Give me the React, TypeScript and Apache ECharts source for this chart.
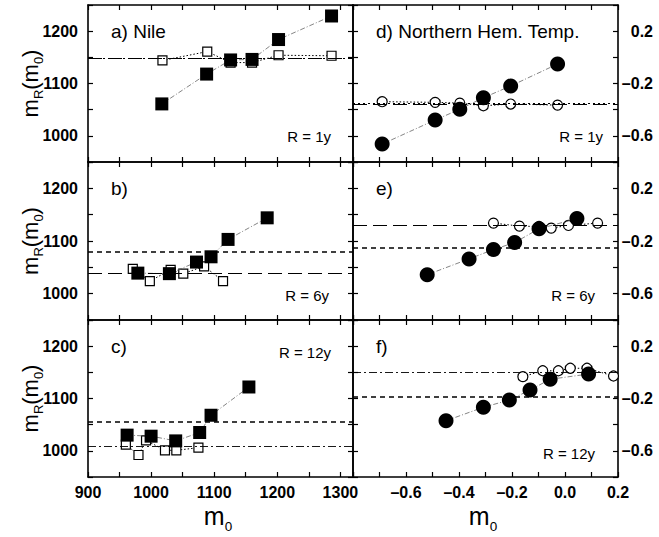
import React, { useEffect, useRef } from "react";
import * as echarts from "echarts";

// ---------- data ----------
// Nile, R = 1y
const aFilledX = [1017, 1088, 1126, 1160, 1202, 1286];
const aFilledY = [1061, 1118, 1145, 1146, 1184, 1229];
const aOpenX = [1018, 1089, 1126, 1160, 1202, 1286];
const aOpenY = [1144, 1161, 1140, 1140, 1154, 1153];
const aLevels = [1148, 1149];
// Nile, R = 6y
const bFilledX = [979, 1029, 1072, 1095, 1122, 1184];
const bFilledY = [1039, 1038, 1060, 1070, 1103, 1144];
const bOpenX = [971, 998, 1031, 1051, 1084, 1114];
const bOpenY = [1047, 1024, 1045, 1038, 1052, 1024];
const bLevels = [1038, 1079];
// Nile, R = 12y
const cFilledX = [962, 1000, 1039, 1077, 1095, 1155];
const cFilledY = [1030, 1028, 1019, 1035, 1068, 1122];
const cOpenX = [960, 980, 992, 1022, 1040, 1075];
const cOpenY = [1012, 992, 1020, 1001, 1001, 1006];
const cLevels = [1008, 1056];
// Northern Hem. Temp., R = 1y
const dFilledX = [-0.69, -0.49, -0.397, -0.308, -0.205, -0.028];
const dFilledY = [-0.663, -0.479, -0.397, -0.309, -0.219, -0.051];
const dOpenX = [-0.69, -0.49, -0.397, -0.308, -0.205, -0.028];
const dOpenY = [-0.339, -0.344, -0.35, -0.37, -0.357, -0.365];
const dLevels = [-0.36, -0.355];
// Northern Hem. Temp., R = 6y
const eFilledX = [-0.52, -0.362, -0.27, -0.19, -0.098, 0.045];
const eFilledY = [-0.456, -0.336, -0.265, -0.212, -0.107, -0.03];
const eOpenX = [-0.27, -0.172, -0.098, -0.052, 0.013, 0.123];
const eOpenY = [-0.064, -0.087, -0.09, -0.102, -0.082, -0.064];
const eLevels = [-0.082, -0.252];
// Northern Hem. Temp., R = 12y
const fFilledX = [-0.449, -0.308, -0.21, -0.132, -0.056, 0.089];
const fFilledY = [-0.37, -0.267, -0.212, -0.135, -0.053, -0.013];
const fOpenX = [-0.159, -0.084, -0.025, 0.02, 0.083, 0.183];
const fOpenY = [-0.033, 0.012, 0.012, 0.031, 0.031, -0.028];
const fLevels = [0.0, -0.194];

const panelLabels = ["a) Nile", "d) Northern Hem. Temp.", "b)", "e)", "c)", "f)"];
const rLabels = ["R = 1y", "R = 1y", "R = 6y", "R = 6y", "R = 12y", "R = 12y"];

const FONT = "'Liberation Sans', Arial, Helvetica, sans-serif";

type LevelKind = "long" | "short" | "dot" | "dashdot";

const levelStyle: Record<LevelKind, any> = {
  long: { type: [14, 6], width: 1.2, color: "#000" },
  short: { type: [5, 4], width: 1.7, color: "#000" },
  dot: { type: [2, 3], width: 1, color: "#000" },
  dashdot: { type: [8, 3, 2, 3], width: 0.9, color: "#000" },
};

interface Panel {
  fx: number[]; fy: number[]; ox: number[]; oy: number[];
  levels: number[]; kinds: LevelKind[];
  marker: "rect" | "circle";
}

const panels: Panel[] = [
  { fx: aFilledX, fy: aFilledY, ox: aOpenX, oy: aOpenY, levels: aLevels, kinds: ["long", "dot"], marker: "rect" },
  { fx: dFilledX, fy: dFilledY, ox: dOpenX, oy: dOpenY, levels: dLevels, kinds: ["long", "dot"], marker: "circle" },
  { fx: bFilledX, fy: bFilledY, ox: bOpenX, oy: bOpenY, levels: bLevels, kinds: ["long", "short"], marker: "rect" },
  { fx: eFilledX, fy: eFilledY, ox: eOpenX, oy: eOpenY, levels: eLevels, kinds: ["long", "short"], marker: "circle" },
  { fx: cFilledX, fy: cFilledY, ox: cOpenX, oy: cOpenY, levels: cLevels, kinds: ["dashdot", "short"], marker: "rect" },
  { fx: fFilledX, fy: fFilledY, ox: fOpenX, oy: fOpenY, levels: fLevels, kinds: ["dashdot", "short"], marker: "circle" },
];

// layout
const COL_LEFT = [88, 353];
const COL_W = 265;
const ROW_TOP = [5, 162, 320];
const ROW_H = [157, 158, 157];
const P_LABEL_X = [111, 376];
const R_LABEL_POS = [
  [331, 131], [603, 131],
  [329, 133], [595, 133],
  [331, 32], [595, 133],
];

function fmtDash(v: number) {
  const s = v.toFixed(1);
  return s.startsWith("-") ? "\u2013" + s.slice(1) : s;
}

// a "base + subscript" sequence laid out manually (pieces: [text, isSub, width])
function subText(pieces: [string, boolean, number][], big: number, small: number, drop: number) {
  const total = pieces.reduce((s, p) => s + p[2], 0);
  let x = -total / 2;
  const children: any[] = [];
  pieces.forEach(([t, sub, w]) => {
    children.push({
      type: "text", x, y: sub ? drop : 0,
      style: {
        text: t, fill: "#000", fontFamily: FONT, fontSize: sub ? small : big,
        align: "left", verticalAlign: "middle",
      },
    });
    x += w;
  });
  return children;
}

export default function App() {
  const ref = useRef<HTMLDivElement>(null);
  useEffect(() => {
    if (!ref.current) return;
    const chart = echarts.init(ref.current, undefined, { renderer: "svg" });

    const grids: any[] = [];
    const xAxes: any[] = [];
    const yAxes: any[] = [];
    const series: any[] = [];
    const graphics: any[] = [];

    const tickLabelStyle = { color: "#000", fontFamily: FONT, fontWeight: "bold", fontSize: 16 };

    panels.forEach((p, i) => {
      const row = Math.floor(i / 2);
      const col = i % 2;
      const left = COL_LEFT[col];
      const top = ROW_TOP[row];
      grids.push({ left, top, width: COL_W, height: ROW_H[row], show: false, containLabel: false });

      const xBase: any = col === 0
        ? { min: 900, max: 1320, interval: 50 }
        : { min: -0.8, max: 0.2, interval: 0.1 };
      const yBase: any = col === 0
        ? { min: 950, max: 1250, interval: 50 }
        : { min: -0.8, max: 0.4, interval: 0.2 };

      const xFormatter = col === 0
        ? (v: number) => (Math.round(v) % 100 === 0 && v <= 1300 ? String(Math.round(v)) : "")
        : (v: number) => {
            const r = Math.round(v * 10);
            if (r % 2 !== 0 || r === -8) return "";
            return fmtDash(r / 10);
          };
      const yFormatter = col === 0
        ? (v: number) => (Math.round(v) % 100 === 0 ? String(Math.round(v)) : "")
        : (v: number) => {
            const r = Math.round(v * 10);
            return r === 2 || r === -2 || r === -6 ? fmtDash(r / 10) : "";
          };

      const axisLine = { show: true, onZero: false, lineStyle: { color: "#000", width: 1.6 } };
      const axisTick = { show: true, inside: true, length: 5, lineStyle: { color: "#000", width: 1.2 } };

      ["bottom", "top"].forEach((pos) => {
        xAxes.push({
          type: "value", gridIndex: i, position: pos, ...xBase,
          axisLine, axisTick, splitLine: { show: false },
          axisLabel: {
            show: pos === "bottom" && row === 2,
            formatter: xFormatter, margin: 7, ...tickLabelStyle,
          },
        });
      });
      ["left", "right"].forEach((pos) => {
        const labelled = (col === 0 && pos === "left") || (col === 1 && pos === "right");
        yAxes.push({
          type: "value", gridIndex: i, position: pos, ...yBase,
          axisLine, axisTick, splitLine: { show: false },
          axisLabel: {
            show: labelled,
            formatter: yFormatter,
            margin: col === 0 ? 10 : 35,
            align: "right",
            ...tickLabelStyle,
          },
        });
      });

      const isRect = p.marker === "rect";
      // open markers (drawn first)
      series.push({
        type: "line", xAxisIndex: i * 2, yAxisIndex: i * 2,
        data: p.ox.map((x, k) => [x, p.oy[k]]),
        symbol: isRect ? "rect" : "circle",
        symbolSize: isRect ? 9 : 10,
        showSymbol: true,
        itemStyle: { color: "#fff", borderColor: "#000", borderWidth: 1.2 },
        lineStyle: { color: "#000", width: 1, type: [1.5, 2] },
        silent: true, z: 3,
        markLine: {
          silent: true, symbol: ["none", "none"], label: { show: false },
          data: p.levels.map((lv, k) => ({ yAxis: lv, lineStyle: levelStyle[p.kinds[k]] })),
        },
      });
      // filled markers
      series.push({
        type: "line", xAxisIndex: i * 2, yAxisIndex: i * 2,
        data: p.fx.map((x, k) => [x, p.fy[k]]),
        symbol: isRect ? "rect" : "circle",
        symbolSize: isRect ? 13 : 15,
        showSymbol: true,
        itemStyle: { color: "#000", borderColor: "#000", borderWidth: 0 },
        lineStyle: { color: "#666", width: 0.8, type: [5, 2, 1, 2] },
        silent: true, z: 4,
      });

      graphics.push({
        type: "text", x: P_LABEL_X[col], y: top + 26,
        style: { text: panelLabels[i], fill: "#000", fontFamily: FONT, fontSize: 19, align: "left", verticalAlign: "middle" },
      });
      graphics.push({
        type: "text", x: R_LABEL_POS[i][0], y: top + R_LABEL_POS[i][1],
        style: { text: rLabels[i], fill: "#000", fontFamily: FONT, fontSize: 15, align: "right", verticalAlign: "middle" },
      });
    });

    // y titles m_R(m_0), rotated
    const yPieces: [string, boolean, number][] = [
      ["m", false, 18.3], ["R", true, 9.4], ["(", false, 7.3], ["m", false, 18.3], ["0", true, 7.2], [")", false, 7.3],
    ];
    ROW_TOP.forEach((t, r) => {
      graphics.push({
        type: "group", x: 30, y: t + ROW_H[r] / 2, rotation: Math.PI / 2,
        children: subText(yPieces, 22, 13, 8),
      });
    });
    // x titles m_0
    const xPieces: [string, boolean, number][] = [["m", false, 20.8], ["0", true, 7.5]];
    [218, 483].forEach((cx) => {
      graphics.push({
        type: "group", x: cx, y: 516,
        children: subText(xPieces, 25, 13.5, 10),
      });
    });

    chart.setOption({
      animation: false,
      backgroundColor: "#fff",
      grid: grids,
      xAxis: xAxes,
      yAxis: yAxes,
      series,
      graphic: graphics,
    });
    return () => chart.dispose();
  }, []);

  return (
    <div
      ref={ref}
      style={{ position: "absolute", left: 0, top: 0, width: 659, height: 537, background: "#fff" }}
    />
  );
}
